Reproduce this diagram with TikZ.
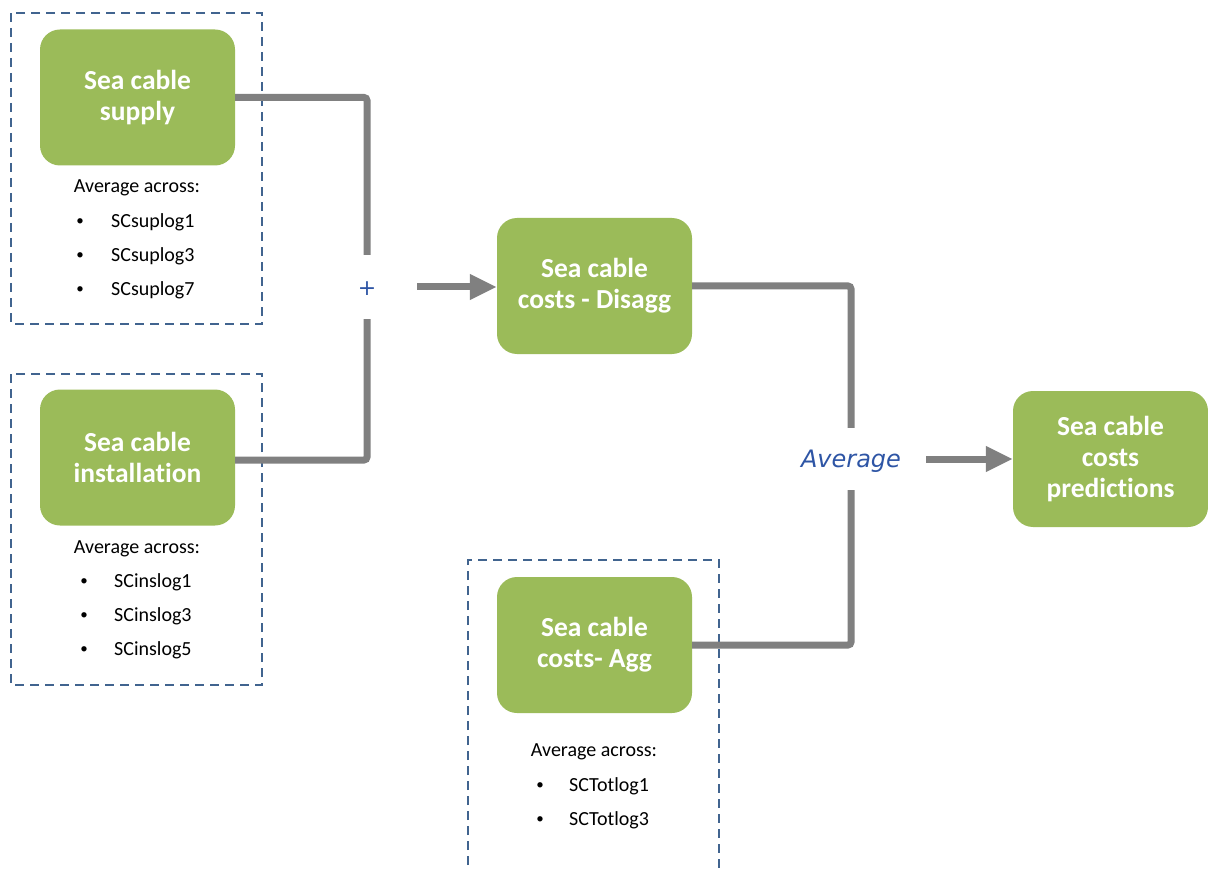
\documentclass[tikz,border=0pt]{standalone}
\usepackage{fontspec}
\setmainfont{Carlito}[Ligatures=NoCommon]
\newfontfamily\dejavu{DejaVu Sans}
\usetikzlibrary{arrows.meta}
\definecolor{boxgreen}{HTML}{9BBB59}
\definecolor{flowgray}{HTML}{808080}
\definecolor{frameblue}{HTML}{41648F}
\definecolor{labelblue}{HTML}{2E55A5}
\begin{document}
\begin{tikzpicture}[x=1pt,y=-1pt,
  stage/.style={fill=boxgreen, rounded corners=20pt, minimum width=195pt,
    minimum height=136pt, text=white, align=center, inner sep=0pt,
    font=\fontsize{27.5}{31}\selectfont\bfseries},
  group/.style={draw=frameblue, line width=2pt, dash pattern=on 9pt off 6pt},
  flow/.style={draw=flowgray, line width=7pt, rounded corners=3pt},
  flowarrow/.style={draw=flowgray, line width=7pt, -{Triangle[length=27pt,width=24pt]}},
  joint/.style={inner sep=0pt, text=labelblue},
  note/.style={font=\fontsize{20}{24}\selectfont, inner sep=0pt},
  dot/.style={font=\fontsize{15}{18}\selectfont, inner sep=0pt},
  item/.style={font=\fontsize{20}{24}\selectfont, inner sep=0pt, anchor=west},
]
\useasboundingbox (0,0) rectangle (1208,869);

% grouping frames
\draw[group] (11,13) rectangle (262,324);
\draw[group] (11,374) rectangle (262,685);
\draw[group] (468,880) -- (468,560) -- (719,560) -- (719,880);

% stages
\node[stage] (supply)  at (137.5,97.5)  {Sea cable\\supply};
\node[stage] (install) at (137.5,457.5) {Sea cable\\installation};
\node[stage] (disagg)  at (594.5,286)   {Sea cable\\costs - Disagg};
\node[stage] (agg)     at (594.5,645)   {Sea cable\\costs- Agg};
\node[stage] (pred)    at (1110.5,459)  {Sea cable\\costs\\predictions};

% combination labels
\node[joint, minimum width=100pt, minimum height=64pt, text height=16pt, text depth=0pt,
      font=\dejavu\fontsize{22}{26}\selectfont] (plus) at (367,287) {+};
\node[joint, minimum width=150pt, minimum height=62pt, text height=17pt, text depth=0pt,
      font=\dejavu\itshape\fontsize{24}{28}\selectfont] (avg) at (851,459) {Average};

% connectors
\draw[flow] (supply.east) -| (plus.north);
\draw[flow] (install.east |- 0,460) -| (plus.south);
\draw[flowarrow] (plus.east) -- (plus.east -| disagg.west);
\draw[flow] (disagg.east) -| (avg.north);
\draw[flow] (agg.east) -| (avg.south);
\draw[flowarrow] (avg.east) -- (pred.west);

% supply list
\node[note] (supnote) at (137,188) {Average across:};
\node[dot] (supd1) at (80,222) {\textbullet};
\node[dot] (supd2) at (80,256) {\textbullet};
\node[dot] (supd3) at (80,290) {\textbullet};
\node[item] (sup1) at (111,222) {SCsuplog1};
\node[item] (sup3) at (111,256) {SCsuplog3};
\node[item] (sup7) at (111,290) {SCsuplog7};

% installation list
\node[note] (insnote) at (137,549) {Average across:};
\node[dot] (insd1) at (84,582) {\textbullet};
\node[dot] (insd2) at (84,616) {\textbullet};
\node[dot] (insd3) at (84,650) {\textbullet};
\node[item] (ins1) at (114,582) {SCinslog1};
\node[item] (ins3) at (114,616) {SCinslog3};
\node[item] (ins5) at (114,650) {SCinslog5};

% aggregate list
\node[note] (aggnote) at (594,752) {Average across:};
\node[dot] (aggd1) at (540,786) {\textbullet};
\node[dot] (aggd2) at (540,820) {\textbullet};
\node[item] (agg1) at (569,786) {SCTotlog1};
\node[item] (agg3) at (569,820) {SCTotlog3};
\end{tikzpicture}
\end{document}
